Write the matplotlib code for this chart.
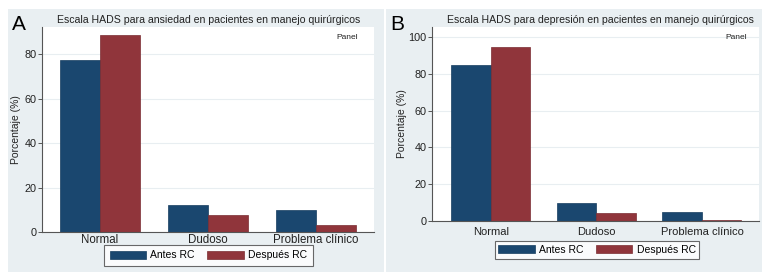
import matplotlib.pyplot as plt
from matplotlib.patches import Rectangle

plt.rcParams['font.family'] = ['Liberation Sans', 'DejaVu Sans']

categories = ['Normal', 'Dudoso', 'Problema clínico']
series_names = ['Antes RC', 'Después RC']

# Panel A: ansiedad
ansiedad_antes = [77.5, 12.0, 9.7]
ansiedad_despues = [88.5, 7.6, 3.3]

# Panel B: depresión
depresion_antes = [85.0, 10.0, 4.9]
depresion_despues = [94.8, 4.2, 0.8]

W, H = 779, 278
NAVY = '#1a476f'
MAROON = '#90353b'
PANEL_BG = '#e9eff2'
GRID = '#e8eef1'
AXIS = '#555555'

fig = plt.figure(figsize=(W / 100, H / 100), dpi=100)


def fx(x):
    return x / W


def fy(y):
    return 1 - y / H


def panel(bg, plot, title, title_x, letter, letter_x, ylab_x, antes, despues,
          ylim, yticks, xlim, legend_c, tick_fs, xpad, panel_x, leg_pad):
    # grey graph region, kept behind the axes
    rect = Rectangle((fx(bg[0]), fy(bg[3])), fx(bg[2] - bg[0]), (bg[3] - bg[1]) / H,
                     transform=fig.transFigure, facecolor=PANEL_BG, edgecolor='none')
    rect.set_zorder(-10)
    fig.add_artist(rect)

    l, t, r, b = plot
    ax = fig.add_axes([fx(l), fy(b), fx(r - l), (b - t) / H])
    ax.set_zorder(1)
    ax.set_facecolor('white')
    x = list(range(len(categories)))
    w = 0.374
    ax.bar([i - w / 2 for i in x], antes, width=w, color=NAVY, edgecolor='#163d5f',
           linewidth=0.5, label=series_names[0], zorder=2)
    ax.bar([i + w / 2 for i in x], despues, width=w, color=MAROON, edgecolor='#7a2d32',
           linewidth=0.5, label=series_names[1], zorder=2)
    ax.set_ylim(*ylim)
    ax.set_xlim(*xlim)
    ax.set_yticks(yticks)
    ax.set_xticks(x)
    ax.set_xticklabels(categories, fontsize=tick_fs, color='#222222')
    ax.tick_params(axis='x', length=0, pad=xpad)
    ax.tick_params(axis='y', length=3, width=0.7, color=AXIS, labelsize=7.8,
                   labelcolor='#222222', pad=0.8)
    ax.yaxis.grid(True, color=GRID, linewidth=0.8, zorder=0)
    ax.set_axisbelow(True)
    for s in ('top', 'right'):
        ax.spines[s].set_visible(False)
    for s in ('left', 'bottom'):
        ax.spines[s].set_color(AXIS)
        ax.spines[s].set_linewidth(0.8)

    fig.text(fx(title_x), fy(20), title, ha='center', va='center', fontsize=7.6,
             color='#222222')
    fig.text(fx(letter_x), fy(25), letter, ha='left', va='center', fontsize=15,
             color='black')
    fig.text(fx(ylab_x), fy((t + b) / 2), 'Porcentaje (%)', rotation=90,
             ha='center', va='center', fontsize=7.5, color='#222222')
    fig.text(fx(panel_x), fy(37), 'Panel', ha='right', va='center', fontsize=6,
             color='#222222', zorder=5)

    leg = ax.legend(loc='center', bbox_to_anchor=(fx(legend_c[0]), fy(legend_c[1])),
                    bbox_transform=fig.transFigure, ncol=2, fontsize=7.5,
                    frameon=True, fancybox=False, handlelength=3.5, handleheight=0.8,
                    handletextpad=0.4, columnspacing=1.2, borderpad=leg_pad,
                    borderaxespad=0)
    leg.get_frame().set_edgecolor('#444444')
    leg.get_frame().set_linewidth(0.8)
    return ax


panel(bg=(8, 9, 384, 272), plot=(42, 27, 374, 232),
      title='Escala HADS para ansiedad en pacientes en manejo quirúrgicos', title_x=209,
      letter='A', letter_x=12, ylab_x=16, antes=ansiedad_antes, despues=ansiedad_despues,
      ylim=(0, 92.3), yticks=[0, 20, 40, 60, 80], xlim=(-0.537, 2.537),
      legend_c=(208.5, 255.5), tick_fs=8.3, xpad=1.5, panel_x=358, leg_pad=0.55)

panel(bg=(386, 9, 762, 272), plot=(432, 27, 759, 221),
      title='Escala HADS para depresión en pacientes en manejo quirúrgicos', title_x=600,
      letter='B', letter_x=390, ylab_x=402, antes=depresion_antes, despues=depresion_despues,
      ylim=(0, 105.4), yticks=[0, 20, 40, 60, 80, 100], xlim=(-0.555, 2.54),
      legend_c=(597, 250), tick_fs=8, xpad=4, panel_x=747, leg_pad=0.35)

fig.savefig('out.png', dpi=100)
